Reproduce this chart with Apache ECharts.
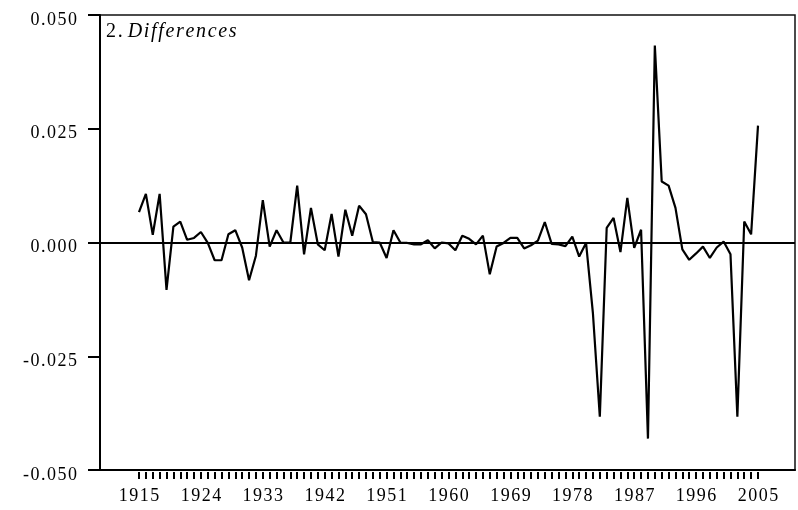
<!DOCTYPE html>
<html>
<head>
<meta charset="utf-8">
<script src="https://cdn.jsdelivr.net/npm/echarts@6/dist/echarts.min.js"></script>
<style>
  html, body { margin: 0; padding: 0; background: #fff; }
  #chart { width: 798px; height: 510px; }
</style>
</head>
<body>
<div id="chart"></div>
<script>
// yearly differences, 1915-2005
var firstYear = 1915;
var lastYear = 2005;
var diffs = [
  0.0067, 0.0107, 0.0017, 0.0107, -0.0104, 0.0035, 0.0046, 0.0006, 0.0010, 0.0023,
  -0.0001, -0.0039, -0.0039, 0.0018, 0.0027, -0.0011, -0.0083, -0.0029, 0.0093, -0.0009,
  0.0027, 0.0000, 0.0000, 0.0125, -0.0026, 0.0076, -0.0004, -0.0017, 0.0063, -0.0031,
  0.0072, 0.0015, 0.0081, 0.0062, 0.0001, 0.0000, -0.0034, 0.0027, 0.0000, -0.0001,
  -0.0004, -0.0004, 0.0005, -0.0013, 0.0000, -0.0002, -0.0017, 0.0015, 0.0008, -0.0004,
  0.0015, -0.0070, -0.0009, -0.0001, 0.0010, 0.0010, -0.0013, -0.0006, 0.0004, 0.0045,
  -0.0003, -0.0004, -0.0008, 0.0013, -0.0031, -0.0001, -0.0156, -0.0383, 0.0032, 0.0054,
  -0.0021, 0.0098, -0.0012, 0.0028, -0.0431, 0.0433, 0.0134, 0.0125, 0.0076, -0.0015,
  -0.0038, -0.0024, -0.0009, -0.0034, -0.0011, 0.0002, -0.0026, -0.0383, 0.0046, 0.0018,
  0.0257
];
var yTicks = [-0.05, -0.025, 0, 0.025, 0.05];
var labelStep = 9;
var titleNum = '2.';
var titleWord = 'Differences';

var years = [];
for (var y = firstYear; y <= lastYear; y++) years.push(String(y));

// spread glyphs a little, like the original print
var spaced = function(s) { return s.split('').join('\u200A'); };

var serif = '"Liberation Serif", "DejaVu Serif", serif';

var chart = echarts.init(document.getElementById('chart'));
chart.setOption({
  animation: false,
  backgroundColor: '#fff',
  title: {
    text: '{n|' + spaced(titleNum) + '} {w|' + spaced(titleWord) + '}',
    left: 106,
    top: 22,
    padding: 0,
    textStyle: {
      fontWeight: 'normal',
      rich: {
        n: { fontFamily: serif, fontSize: 20, fontWeight: 'normal', color: '#000' },
        w: { fontFamily: serif, fontSize: 20, fontWeight: 'normal', fontStyle: 'italic', color: '#000' }
      }
    }
  },
  grid: [
    { left: 100, right: 3, top: 15, bottom: 40, show: true, borderColor: '#111', borderWidth: 1.5 },
    { left: 139, right: 40, top: 15, bottom: 40 }
  ],
  xAxis: [
    {
      gridIndex: 0, type: 'value', min: 0, max: 1,
      axisLine: { show: true, onZero: false, lineStyle: { color: '#000', width: 2 } },
      axisTick: { show: false }, axisLabel: { show: false }, splitLine: { show: false }
    },
    {
      gridIndex: 1, type: 'category', data: years, boundaryGap: false, offset: 2,
      axisLine: { show: false, onZero: false },
      axisTick: { show: true, interval: 0, length: 7, lineStyle: { color: '#000', width: 2 } },
      axisLabel: {
        interval: labelStep - 1, margin: 15, color: '#000', fontFamily: serif, fontSize: 18,
        formatter: function(v) { return spaced(v); }
      },
      splitLine: { show: false }
    }
  ],
  yAxis: [
    {
      gridIndex: 0, type: 'value', min: yTicks[0], max: yTicks[yTicks.length - 1], interval: 0.025,
      axisLine: { show: true, lineStyle: { color: '#000', width: 2 } },
      axisTick: { show: true, inside: false, length: 12, lineStyle: { color: '#000', width: 2 } },
      axisLabel: {
        margin: 23, color: '#000', fontFamily: serif, fontSize: 18,
        formatter: function(v) { return '{v|' + spaced(v.toFixed(3)) + '}'; },
        rich: {
          v: { fontFamily: serif, fontSize: 18, color: '#000', padding: [10, 0, 0, 0] }
        }
      },
      splitLine: { show: false }
    },
    {
      gridIndex: 1, type: 'value', min: yTicks[0], max: yTicks[yTicks.length - 1],
      show: false
    }
  ],
  series: [
    {
      type: 'line', xAxisIndex: 0, yAxisIndex: 0, data: [], silent: true,
      markLine: {
        silent: true, symbol: 'none', label: { show: false },
        lineStyle: { color: '#000', width: 1.8, type: 'solid' },
        data: [{ yAxis: 0 }]
      }
    },
    {
      type: 'line', xAxisIndex: 1, yAxisIndex: 1, data: diffs,
      showSymbol: false, symbol: 'none',
      lineStyle: { color: '#000', width: 2.2 }
    }
  ]
});
</script>
</body>
</html>
